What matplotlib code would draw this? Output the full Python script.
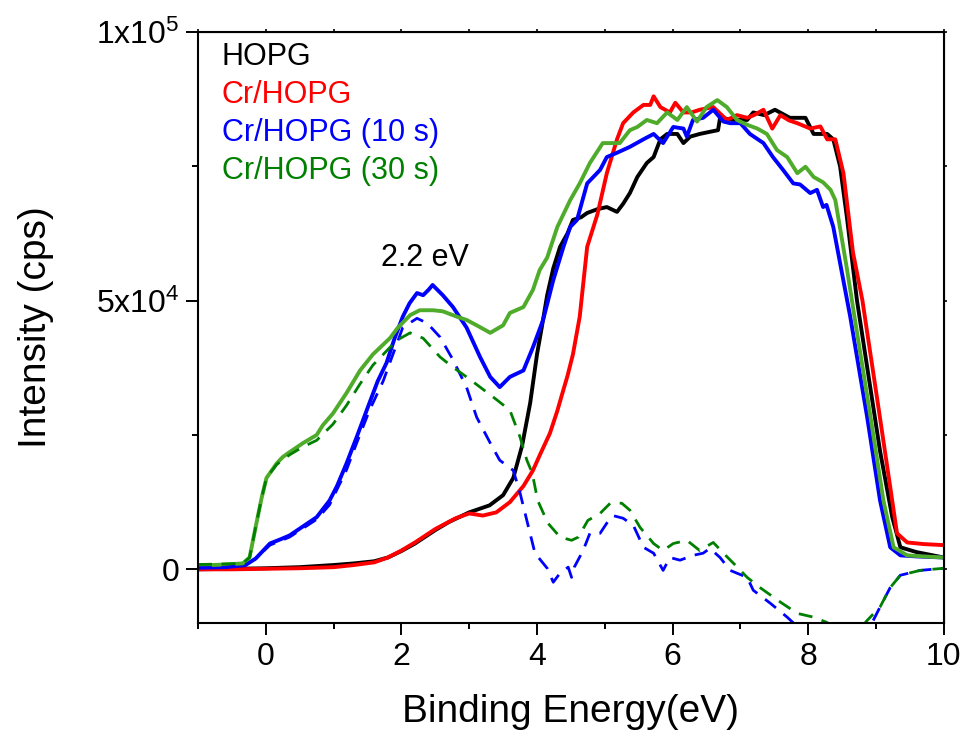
import numpy as np
import matplotlib
matplotlib.use('Agg')
import matplotlib.pyplot as plt
from matplotlib.ticker import FixedLocator, FixedFormatter

plt.rcParams['font.family'] = ['Liberation Sans', 'DejaVu Sans']
plt.rcParams['mathtext.fontset'] = 'custom'
plt.rcParams['mathtext.rm'] = 'Liberation Sans'
plt.rcParams['mathtext.it'] = 'Liberation Sans'

# spectra (x in eV, y in 10^3 cps)
hopg_x = [-1, -0.5, 0, 0.5, 1.0, 1.3, 1.6, 1.8, 2.0, 2.2, 2.5, 2.7, 3.0, 3.3, 3.5, 3.65, 3.78, 3.9,
          4.0, 4.07, 4.15, 4.24, 4.34, 4.45, 4.53, 4.65, 4.74, 4.89, 5.03, 5.18, 5.27, 5.37, 5.48,
          5.62, 5.72, 5.82, 5.92, 6.07, 6.16, 6.26, 6.4, 6.55, 6.67, 6.7, 6.9, 7.1, 7.19, 7.35,
          7.51, 7.73, 7.96, 8.08, 8.28, 8.37, 8.47, 8.57, 8.72, 8.87, 9.06, 9.24, 9.36, 9.6, 10.0]
hopg_y = [0, 0.1, 0.2, 0.4, 0.8, 1.1, 1.5, 2.2, 3.4, 4.8, 7.3, 8.8, 10.6, 11.9, 13.8, 17.0, 23.0, 31.0,
          40.0, 45.0, 51.0, 56.0, 60.0, 62.5, 65.0, 65.5, 66.3, 67.0, 67.4, 66.5, 68.0, 70.0, 73.0,
          75.6, 76.7, 80.0, 81.0, 81.0, 79.3, 80.5, 81.0, 81.4, 81.7, 84.0, 83.6, 83.6, 85.0, 84.5,
          85.5, 84.0, 84.0, 81.0, 81.0, 80.0, 75.0, 65.6, 50.0, 37.6, 22.0, 9.7, 4.1, 3.2, 2.2]

cr_x = [-1, -0.5, 0, 0.5, 1.0, 1.3, 1.6, 1.8, 2.0, 2.2, 2.5, 2.8, 3.0, 3.2, 3.4, 3.6, 3.7, 3.8, 3.94,
        4.05, 4.19, 4.3, 4.38, 4.45, 4.53, 4.63, 4.74, 4.89, 5.03, 5.18, 5.27, 5.42, 5.57, 5.67, 5.72,
        5.82, 5.96, 6.04, 6.16, 6.28, 6.4, 6.6, 6.8, 6.95, 7.1, 7.2, 7.34, 7.47, 7.59, 7.72, 7.84,
        8.03, 8.18, 8.28, 8.4, 8.52, 8.66, 8.8, 9.02, 9.21, 9.31, 9.46, 9.7, 10.0]
cr_y = [0, 0, 0.1, 0.2, 0.4, 0.8, 1.3, 2.2, 3.5, 5.0, 7.5, 9.5, 10.4, 10.0, 10.6, 12.5, 14.0, 15.5, 18.4,
        21.5, 25.3, 29.5, 33.0, 36.0, 40.0, 47.0, 60.0, 66.0, 73.7, 80.0, 83.0, 85.0, 86.4, 86.4, 88.0,
        86.0, 85.0, 86.8, 85.0, 85.0, 85.5, 86.0, 83.6, 84.5, 84.0, 84.5, 85.5, 82.0, 84.5, 83.5, 83.0,
        82.0, 82.4, 80.0, 80.0, 73.7, 59.0, 50.0, 31.5, 15.3, 6.7, 5.0, 4.7, 4.5]

cr10_x = [-1, -0.6, -0.3, -0.15, 0.06, 0.2, 0.35, 0.55, 0.75, 0.94, 1.05, 1.19, 1.34, 1.53, 1.65, 1.78,
          1.9, 2.02, 2.12, 2.23, 2.32, 2.4, 2.46, 2.61, 2.76, 2.96, 3.16, 3.31, 3.45, 3.6, 3.8, 3.94,
          4.09, 4.24, 4.39, 4.49, 4.59, 4.74, 4.93, 5.03, 5.18, 5.37, 5.57, 5.72, 5.86, 6.01, 6.16,
          6.21, 6.3, 6.45, 6.6, 6.75, 6.85, 7.0, 7.14, 7.34, 7.48, 7.63, 7.78, 7.88, 8.03, 8.13, 8.22,
          8.27, 8.37, 8.5, 8.62, 8.87, 9.06, 9.21, 9.36, 9.6, 10.0]
cr10_y = [0.3, 0.4, 0.8, 2.0, 4.8, 5.5, 6.3, 8.0, 9.7, 12.8, 15.5, 19.7, 24.6, 31.0, 35.0, 38.4,
          43.0, 47.0, 49.5, 51.4, 51.0, 52.0, 52.9, 51.0, 48.8, 45.0, 39.5, 35.8, 33.9, 35.8, 37.0, 41.3,
          46.4, 53.8, 60.0, 63.7, 65.0, 71.8, 74.3, 76.7, 77.5, 78.6, 80.0, 81.0, 79.3, 82.3, 82.0,
          80.5, 83.6, 84.0, 85.5, 83.3, 83.0, 83.0, 81.0, 79.3, 76.7, 74.3, 71.8, 71.6, 70.0, 70.6, 67.4,
          67.8, 63.7, 55.0, 47.0, 28.3, 12.8, 4.1, 2.6, 2.4, 2.2]

cr30_x = [-1, -0.6, -0.34, -0.24, -0.14, -0.06, 0.01, 0.16, 0.25, 0.35, 0.55, 0.75, 0.84, 0.99, 1.19,
          1.39, 1.58, 1.83, 1.95, 2.13, 2.27, 2.47, 2.61, 2.82, 2.96, 3.11, 3.31, 3.5, 3.6, 3.8, 3.94,
          4.04, 4.15, 4.3, 4.49, 4.63, 4.78, 4.97, 5.22, 5.37, 5.48, 5.62, 5.77, 5.92, 6.07, 6.21, 6.36,
          6.5, 6.66, 6.8, 6.95, 7.1, 7.25, 7.39, 7.54, 7.69, 7.84, 7.96, 8.08, 8.22, 8.33, 8.4, 8.57,
          8.67, 8.92, 9.11, 9.26, 9.46, 9.7, 10.0]
cr30_y = [0.7, 0.9, 1.1, 2.2, 8.5, 13.4, 17.0, 19.7, 20.9, 21.8, 23.5, 25.0, 26.8, 29.0, 32.8,
          37.0, 40.0, 43.0, 45.0, 47.3, 48.2, 48.2, 48.0, 47.0, 46.4, 45.4, 44.0, 45.4, 47.7, 48.8, 52.0,
          55.7, 58.0, 63.7, 68.7, 71.8, 75.6, 79.3, 79.3, 81.7, 82.3, 83.6, 83.0, 85.0, 83.6, 86.0, 83.3,
          86.0, 87.3, 86.0, 83.6, 82.7, 82.0, 81.0, 78.0, 76.7, 73.7, 74.9, 73.0, 72.0, 70.6, 68.7, 56.0,
          48.0, 28.3, 12.8, 4.1, 2.6, 2.4, 2.2]

# difference spectra (dashed)
d30_x = [-1, -0.6, -0.34, -0.24, -0.14, -0.06, 0.01, 0.16, 0.35, 0.55, 0.75, 0.99, 1.19, 1.39, 1.58,
         1.68, 1.93, 2.13, 2.32, 2.57, 2.76, 2.96, 3.16, 3.41, 3.6, 3.75, 3.85, 3.93, 4.01, 4.16, 4.34,
         4.51, 4.61, 4.75, 4.93, 5.08, 5.25, 5.37, 5.52, 5.72, 5.86, 6.01, 6.21, 6.4, 6.6, 6.75, 6.9,
         7.1, 7.29, 7.59, 7.84, 8.08, 8.28, 8.5, 8.87, 9.06, 9.21, 9.36, 9.65, 10.0]
d30_y = [0.9, 1.0, 1.1, 2.2, 8.5, 13.4, 17.0, 19.5, 21.3, 22.8, 24.0, 27.0, 30.5, 34.5, 38.0,
         39.3, 42.6, 44.0, 43.0, 39.5, 37.6, 35.8, 33.9, 31.5, 29.6, 24.6, 20.3, 17.9, 12.8, 8.6, 6.0,
         5.4, 6.0, 9.1, 10.4, 12.3, 12.3, 11.0, 7.8, 4.8, 3.5, 4.8, 5.4, 3.5, 5.0, 3.0, 1.1,
         -1.5, -3.4, -6.1, -8.2, -8.9, -9.9, -15.0, -9.5, -7.0, -3.4, -1.1, -0.2, 0.2]

d10_x = [-1, -0.6, -0.3, -0.15, 0.06, 0.35, 0.75, 0.94, 1.19, 1.34, 1.53, 1.73, 2.02, 2.23, 2.38,
         2.57, 2.76, 2.96, 3.11, 3.31, 3.45, 3.65, 3.75, 3.85, 3.97, 4.15, 4.24, 4.34, 4.46, 4.51, 4.55,
         4.68, 4.78, 4.93, 5.03, 5.12, 5.27, 5.42, 5.57, 5.72, 5.86, 5.96, 6.11, 6.3, 6.45, 6.55, 6.7,
         6.85, 7.1, 7.19, 7.44, 7.69, 8.3, 8.94, 9.06, 9.21, 9.36, 9.65, 10.0]
d10_y = [0.3, 0.4, 0.8, 2.0, 4.5, 6.0, 9.3, 12.0, 18.5, 23.5, 29.6, 35.0, 45.0, 46.7, 45.8,
         43.2, 39.0, 33.9, 28.3, 23.5, 20.3, 18.4, 14.2, 9.1, 3.0, 0.2, -2.4, -0.7, 0.4, -1.5, 0.4,
         3.5, 6.7, 6.7, 8.6, 10.0, 9.5, 8.2, 4.1, 3.0, -0.2, 2.2, 1.7, 2.6, 3.0, 3.9, 2.2,
         -0.2, -1.5, -3.9, -6.3, -8.9, -16.0, -10.0, -7.0, -3.4, -1.1, -0.2, 0.2]

labels = ['HOPG', 'Cr/HOPG', 'Cr/HOPG (10 s)', 'Cr/HOPG (30 s)']
label_colors = ['black', '#ff0000', '#0000ff', '#008000']

fig = plt.figure(figsize=(9.66, 7.4), dpi=100)
ax = fig.add_axes([0.205, 0.158, 0.772, 0.799])

lw = 2.8
ax.plot(hopg_x, np.array(hopg_y) * 1000, color='black', lw=lw)
ax.plot(cr_x, np.array(cr_y) * 1000, color='#ff0000', lw=lw)
ax.plot(cr10_x, np.array(cr10_y) * 1000, color='#0000ff', lw=lw)
ax.plot(cr30_x, np.array(cr30_y) * 1000, color='#4fab2a', lw=lw)
# dashed difference curves on top
ax.plot(d10_x, np.array(d10_y) * 1000, color='#0000ff', lw=2.0, linestyle=(0, (5, 3.5)))
ax.plot(d30_x, np.array(d30_y) * 1000, color='#008000', lw=2.0, linestyle=(0, (5, 3.5)))

ax.set_xlim(-1, 10)
ax.set_ylim(-10000, 100000)

ax.xaxis.set_major_locator(FixedLocator([0, 2, 4, 6, 8, 10]))
ax.xaxis.set_minor_locator(FixedLocator([-1, 1, 3, 5, 7, 9]))
ax.yaxis.set_major_locator(FixedLocator([0, 50000, 100000]))
ax.yaxis.set_major_formatter(FixedFormatter(['0', r'5x10$^{4}$', r'1x10$^{5}$']))
ax.yaxis.set_minor_locator(FixedLocator([25000, 75000]))

ax.tick_params(which='major', direction='out', length=8.5, width=1.4, labelsize=23, pad=5)
ax.tick_params(which='minor', direction='out', length=4.5, width=1.4)
for s in ax.spines.values():
    s.set_linewidth(1.5)

top = ax.secondary_xaxis('top')
top.xaxis.set_major_locator(FixedLocator([0, 2, 4, 6, 8, 10]))
top.xaxis.set_minor_locator(FixedLocator([-1, 1, 3, 5, 7, 9]))
top.tick_params(which='both', direction='out', length=2.5, width=1.2, labeltop=False)
right = ax.secondary_yaxis('right')
right.yaxis.set_major_locator(FixedLocator([0, 50000, 100000]))
right.yaxis.set_minor_locator(FixedLocator([25000, 75000]))
right.tick_params(which='both', direction='out', length=2.5, width=1.2, labelright=False)

ax.set_xlabel('Binding Energy(eV)', fontsize=28, labelpad=16)
ax.set_ylabel('Intensity (cps)', fontsize=28, labelpad=30)

for i, (lab, c) in enumerate(zip(labels, label_colors)):
    ax.text(0.032, 0.958 - i * 0.0645, lab, color=c, fontsize=22,
            transform=ax.transAxes, ha='left', va='center')

ax.text(2.35, 57900, '2.2 eV', fontsize=22, ha='center', va='center')

fig.savefig('out.png', dpi=100)
